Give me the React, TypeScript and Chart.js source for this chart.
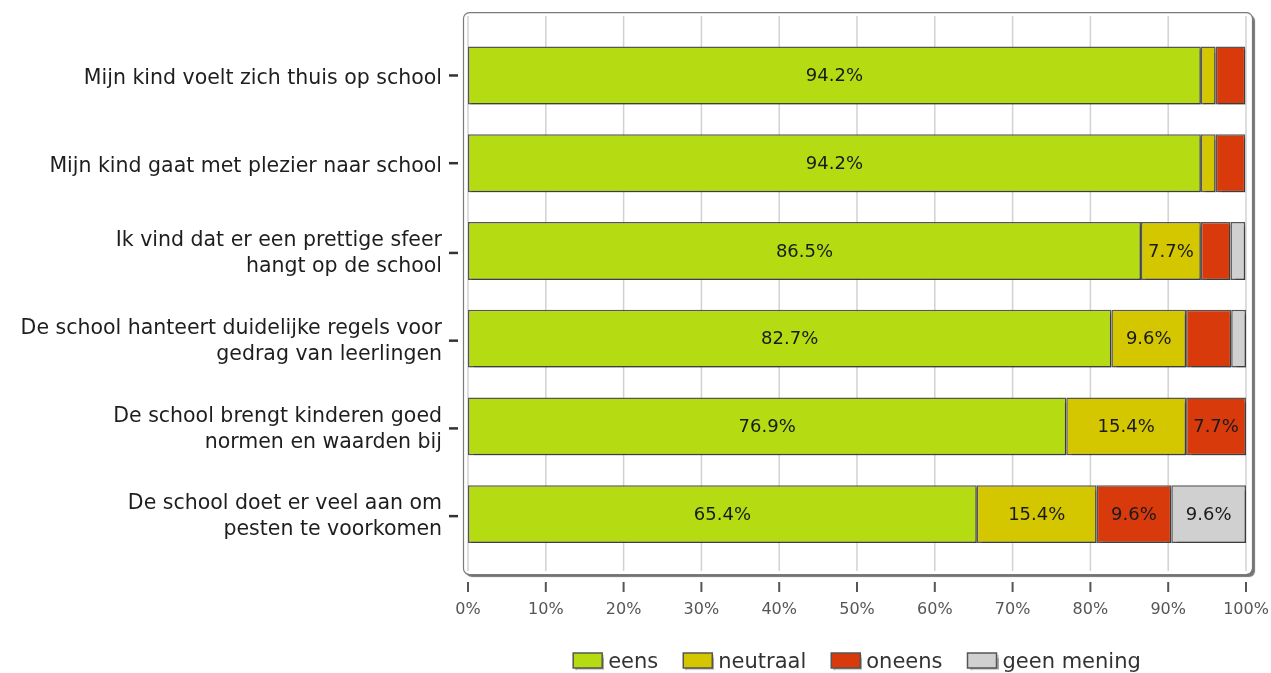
import React, { useEffect, useRef } from 'react';
import { Chart, registerables } from 'chart.js';

Chart.register(...registerables);

const categories: (string | string[])[] = [
  'Mijn kind voelt zich thuis op school',
  'Mijn kind gaat met plezier naar school',
  ['Ik vind dat er een prettige sfeer', 'hangt op de school'],
  ['De school hanteert duidelijke regels voor', 'gedrag van leerlingen'],
  ['De school brengt kinderen goed', 'normen en waarden bij'],
  ['De school doet er veel aan om', 'pesten te voorkomen'],
];

const seriesNames = ['eens', 'neutraal', 'oneens', 'geen mening'];
const seriesColors = ['#b5dc12', '#d4c700', '#d93a0b', '#d0d0d0'];

const eens = [94.2, 94.2, 86.5, 82.7, 76.9, 65.4];
const neutraal = [1.9, 1.9, 7.7, 9.6, 15.4, 15.4];
const oneens = [3.8, 3.8, 3.8, 5.8, 7.7, 9.6];
const geenMening = [0, 0, 1.9, 1.9, 0, 9.6];

const xTicks = [0, 10, 20, 30, 40, 50, 60, 70, 80, 90, 100];

const FONT = "'DejaVu Sans', sans-serif";

const framePlugin = {
  id: 'frameDecor',
  beforeDatasetsDraw(chart: any) {
    const { ctx, chartArea: a, scales } = chart;
    const xs = scales.x;
    const ys = scales.y;
    const L = a.left - 5;
    const R = a.right + 6;
    const T = a.top - 19.5;
    const B = a.bottom + 16;
    ctx.save();
    ctx.shadowColor = 'rgba(0,0,0,0.55)';
    ctx.shadowOffsetX = 3;
    ctx.shadowOffsetY = 3;
    ctx.shadowBlur = 1;
    ctx.beginPath();
    ctx.roundRect(L, T, R - L, B - T, 6);
    ctx.fillStyle = '#ffffff';
    ctx.fill();
    ctx.restore();

    ctx.save();
    ctx.lineWidth = 1.2;
    ctx.strokeStyle = '#7a7a7a';
    ctx.beginPath();
    ctx.roundRect(L + 0.5, T + 0.5, R - L, B - T, 6);
    ctx.stroke();

    ctx.strokeStyle = '#d2d2d2';
    ctx.lineWidth = 1.5;
    for (const v of xTicks) {
      const px = xs.getPixelForValue(v);
      ctx.beginPath();
      ctx.moveTo(px, T + 4);
      ctx.lineTo(px, B - 3);
      ctx.stroke();
    }
    ctx.strokeStyle = '#555555';
    ctx.lineWidth = 2;
    for (const v of xTicks) {
      const px = xs.getPixelForValue(v);
      ctx.beginPath();
      ctx.moveTo(px, B + 8);
      ctx.lineTo(px, B + 18);
      ctx.stroke();
    }
    ctx.strokeStyle = '#333333';
    ctx.lineWidth = 2.5;
    for (let i = 0; i < categories.length; i++) {
      const py = ys.getPixelForValue(i) + (Array.isArray(categories[i]) ? 2 : 0);
      ctx.beginPath();
      ctx.moveTo(L - 14, py);
      ctx.lineTo(L - 5, py);
      ctx.stroke();
    }
    ctx.restore();

    ctx.save();
    ctx.shadowColor = 'rgba(0,0,0,0.28)';
    ctx.shadowOffsetX = 2;
    ctx.shadowOffsetY = 2;
    ctx.shadowBlur = 1;
  },
  afterDatasetsDraw(chart: any) {
    const { ctx } = chart;
    ctx.restore();
    ctx.save();
    ctx.font = `18px ${FONT}`;
    ctx.fillStyle = '#1a1a1a';
    ctx.textAlign = 'center';
    ctx.textBaseline = 'middle';
    chart.data.datasets.forEach((ds: any, di: number) => {
      const meta = chart.getDatasetMeta(di);
      meta.data.forEach((el: any, i: number) => {
        const v = ds.data[i];
        if (v >= 7) {
          const cx = (el.x + el.base) / 2;
          ctx.fillText(`${v.toFixed(1)}%`, cx, el.y + 1);
        }
      });
    });
    ctx.restore();
  },
  afterDraw(chart: any) {
    const { ctx, chartArea: a } = chart;
    ctx.save();
    ctx.font = `21px ${FONT}`;
    const boxW = 29;
    const boxH = 15;
    const gapBox = 6;
    const gapItem = 25;
    const widths = seriesNames.map((n) => ctx.measureText(n).width);
    const total = widths.reduce((s, w) => s + boxW + gapBox + w, 0) + gapItem * (seriesNames.length - 1);
    let x = (a.left + a.right) / 2 - total / 2;
    const boxTop = 653;
    seriesNames.forEach((name, i) => {
      ctx.save();
      ctx.shadowColor = 'rgba(0,0,0,0.35)';
      ctx.shadowOffsetX = 2;
      ctx.shadowOffsetY = 2;
      ctx.shadowBlur = 1;
      ctx.fillStyle = seriesColors[i];
      ctx.fillRect(x, boxTop, boxW, boxH);
      ctx.restore();
      ctx.lineWidth = 1.5;
      ctx.strokeStyle = '#555555';
      ctx.strokeRect(x, boxTop, boxW, boxH);
      ctx.fillStyle = '#333333';
      ctx.textAlign = 'left';
      ctx.textBaseline = 'alphabetic';
      ctx.fillText(name, x + boxW + gapBox, 668);
      x += boxW + gapBox + widths[i] + gapItem;
    });
    ctx.restore();
  },
};

export default function App() {
  const ref = useRef<HTMLCanvasElement | null>(null);
  useEffect(() => {
    if (!ref.current) return;
    const values = [eens, neutraal, oneens, geenMening];
    const chart = new Chart(ref.current, {
      type: 'bar',
      data: {
        labels: categories,
        datasets: seriesNames.map((name, i) => ({
          label: name,
          data: values[i],
          backgroundColor: seriesColors[i],
          borderColor: '#555555',
          borderWidth: 1.5,
          borderSkipped: false,
          barPercentage: 0.66,
          categoryPercentage: 1,
        })),
      },
      options: {
        indexAxis: 'y',
        responsive: false,
        animation: false,
        layout: { padding: { left: 0, right: 25, top: 31.6, bottom: 0 } },
        plugins: {
          legend: { display: false },
          tooltip: { enabled: false },
        },
        scales: {
          x: {
            stacked: true,
            min: 0,
            max: 100,
            grid: { display: false, drawTicks: false },
            border: { display: false },
            afterFit: (s: any) => {
              s.height = 115;
              s.paddingLeft = 0;
              s.paddingRight = 0;
              s.paddingTop = 0;
              s.paddingBottom = 0;
            },
            ticks: {
              stepSize: 10,
              autoSkip: false,
              maxRotation: 0,
              padding: 42,
              color: '#555555',
              font: { family: FONT, size: 16 },
              callback: (v: any) => `${v}%`,
            },
          },
          y: {
            stacked: true,
            grid: { display: false, drawTicks: false },
            border: { display: false },
            afterFit: (s: any) => {
              s.width = 468;
              s.paddingLeft = 0;
              s.paddingRight = 0;
              s.paddingTop = 0;
              s.paddingBottom = 0;
            },
            ticks: {
              autoSkip: false,
              padding: 26,
              labelOffset: 3,
              color: '#1e1e1e',
              font: { family: FONT, size: 20.5, lineHeight: 1.27 },
            },
          },
        },
      },
      plugins: [framePlugin],
    } as any);
    return () => chart.destroy();
  }, []);
  return (
    <div style={{ position: 'fixed', left: 0, top: 0, width: 1271, height: 673, background: '#ffffff' }}>
      <canvas ref={ref} width={1271} height={673} style={{ display: 'block' }} />
    </div>
  );
}
